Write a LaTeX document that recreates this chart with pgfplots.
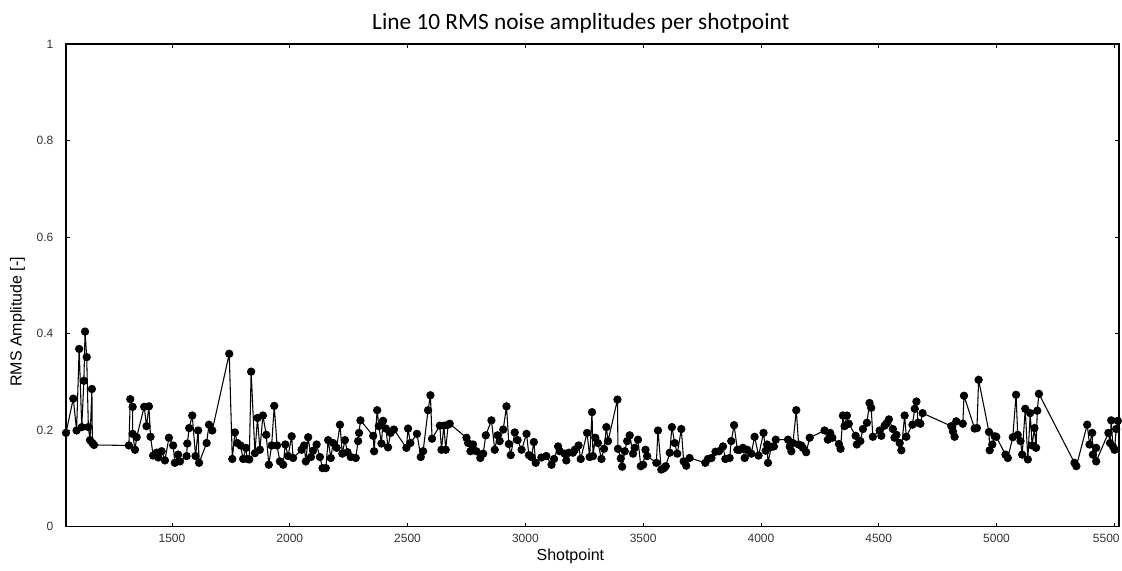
\documentclass[border=0pt]{standalone}
\usepackage{pgfplots}
\pgfplotsset{compat=1.18}
\usepackage{pgfplotstable}
\usetikzlibrary{calc}
\usepackage{fontspec}
\setmainfont{Liberation Sans}
\newfontfamily\titlefont{Carlito}

% RMS noise per shotpoint
\pgfplotstableread{
sp rms
1050 0.194
1081 0.265
1095 0.199
1106 0.368
1117 0.206
1126 0.302
1131 0.404
1138 0.351
1145 0.206
1152 0.179
1160 0.285
1162 0.173
1169 0.169
1317 0.168
1323 0.264
1333 0.248
1333 0.192
1343 0.159
1350 0.185
1382 0.248
1392 0.208
1402 0.249
1409 0.186
1420 0.147
1435 0.153
1442 0.143
1456 0.156
1470 0.137
1487 0.184
1505 0.168
1512 0.132
1526 0.149
1534 0.135
1562 0.146
1565 0.172
1573 0.204
1586 0.230
1600 0.146
1611 0.199
1615 0.132
1647 0.173
1657 0.211
1671 0.199
1743 0.358
1756 0.140
1767 0.195
1777 0.173
1791 0.168
1802 0.140
1814 0.163
1819 0.140
1828 0.139
1836 0.321
1852 0.152
1863 0.225
1873 0.159
1886 0.230
1900 0.190
1911 0.128
1923 0.168
1934 0.250
1946 0.168
1958 0.135
1972 0.128
1981 0.170
1993 0.146
2008 0.187
2014 0.142
2050 0.159
2061 0.168
2068 0.135
2078 0.185
2090 0.144
2099 0.157
2114 0.170
2128 0.144
2139 0.121
2153 0.121
2163 0.179
2174 0.142
2184 0.173
2199 0.163
2213 0.211
2223 0.151
2234 0.179
2245 0.154
2259 0.144
2280 0.142
2290 0.177
2294 0.194
2300 0.220
2354 0.188
2358 0.156
2371 0.241
2378 0.208
2389 0.172
2396 0.219
2408 0.203
2417 0.164
2428 0.194
2442 0.201
2495 0.163
2502 0.203
2512 0.173
2540 0.192
2556 0.144
2566 0.156
2587 0.241
2597 0.272
2604 0.182
2637 0.209
2644 0.159
2654 0.209
2662 0.159
2672 0.211
2679 0.213
2750 0.184
2757 0.173
2767 0.156
2778 0.170
2792 0.156
2809 0.142
2821 0.151
2832 0.189
2856 0.220
2870 0.159
2882 0.189
2891 0.177
2906 0.201
2920 0.249
2930 0.171
2938 0.148
2955 0.195
2967 0.179
2984 0.159
3005 0.192
3015 0.148
3026 0.144
3036 0.175
3044 0.132
3068 0.143
3089 0.146
3111 0.128
3122 0.140
3139 0.166
3146 0.156
3167 0.151
3174 0.137
3185 0.153
3202 0.153
3210 0.159
3226 0.168
3235 0.140
3262 0.194
3273 0.144
3283 0.237
3287 0.146
3297 0.184
3308 0.173
3323 0.140
3334 0.161
3344 0.206
3351 0.177
3391 0.263
3393 0.161
3405 0.141
3411 0.124
3422 0.156
3432 0.177
3443 0.189
3457 0.151
3464 0.163
3478 0.180
3490 0.125
3500 0.128
3510 0.159
3517 0.146
3556 0.132
3563 0.199
3577 0.118
3589 0.121
3596 0.125
3613 0.153
3622 0.206
3634 0.173
3645 0.151
3662 0.202
3672 0.135
3683 0.126
3697 0.142
3764 0.132
3775 0.140
3790 0.142
3807 0.155
3822 0.156
3839 0.166
3849 0.140
3867 0.142
3874 0.177
3886 0.210
3900 0.159
3910 0.159
3924 0.163
3931 0.142
3942 0.159
3959 0.151
3973 0.186
3990 0.147
4011 0.194
4020 0.157
4026 0.170
4030 0.132
4044 0.165
4055 0.166
4063 0.180
4115 0.180
4122 0.166
4129 0.156
4136 0.173
4150 0.241
4160 0.170
4171 0.168
4178 0.163
4192 0.154
4207 0.184
4270 0.199
4284 0.180
4294 0.194
4303 0.184
4331 0.171
4338 0.161
4348 0.230
4355 0.208
4365 0.230
4373 0.213
4402 0.188
4407 0.170
4422 0.177
4433 0.202
4450 0.215
4461 0.256
4468 0.246
4475 0.186
4504 0.199
4511 0.188
4525 0.209
4532 0.213
4543 0.222
4560 0.202
4567 0.184
4575 0.190
4589 0.173
4596 0.158
4610 0.230
4617 0.186
4643 0.211
4653 0.244
4660 0.259
4667 0.215
4677 0.213
4686 0.235
4808 0.208
4815 0.197
4822 0.186
4829 0.218
4857 0.213
4862 0.271
4907 0.203
4917 0.204
4924 0.304
4968 0.196
4971 0.158
4982 0.170
4992 0.187
4999 0.186
5038 0.149
5048 0.142
5069 0.185
5083 0.273
5090 0.190
5102 0.177
5109 0.149
5122 0.244
5133 0.139
5143 0.235
5151 0.168
5161 0.204
5168 0.163
5173 0.240
5180 0.275
5331 0.132
5339 0.125
5385 0.211
5395 0.170
5406 0.194
5409 0.149
5423 0.163
5423 0.135
5475 0.194
5482 0.173
5487 0.220
5494 0.166
5501 0.159
5508 0.202
5515 0.219
}\rmsdata

\begin{document}
\begin{tikzpicture}
  \begin{axis}[
      name=main,
      scale only axis,
      width=790pt, height=362pt,
      xmin=1050, xmax=5520,
      ymin=0, ymax=1,
      xtick={1500,2000,...,5500},
      % last label pulled left so it stays inside the frame
      xticklabels={1500,2000,2500,3000,3500,4000,4500,5000,\hspace*{-12pt}5500},
      ytick={0,0.2,0.4,0.6,0.8,1},
      /pgf/number format/assume math mode=true,
      /pgf/number format/1000 sep={},
      tick align=inside,
      major tick length=3pt,
      axis line style={line width=1.2pt},
      every tick/.style={black, line width=0.5pt},
      ticklabel style={font=\fontsize{9}{10}\selectfont, text=black!80},
      yticklabel style={xshift=-6pt},
      xticklabel style={yshift=-2pt},
      xlabel={Shotpoint},
      ylabel={RMS Amplitude [-]},
      label style={font=\fontsize{12}{14}\selectfont},
      xlabel style={at={(axis description cs:0.479,-0.062)}, anchor=center},
      ylabel style={at={(axis description cs:-0.046,0.424)}, anchor=center},
      title={\titlefont Line 10 RMS noise amplitudes per shotpoint},
      title style={font=\fontsize{17.5}{20}\selectfont, at={(axis description cs:0.489,0.995)}, anchor=south},
  ]
    \addplot[black, line width=0.8pt, mark=*, mark size=2.7pt, mark options={fill=black}]
      table[x=sp, y=rms] {\rmsdata};
  \end{axis}
  \pgfresetboundingbox
  \path ($(main.south west)+(-49.5pt,-33pt)$) rectangle ($(main.north east)+(2.25pt,33pt)$);
\end{tikzpicture}
\end{document}
